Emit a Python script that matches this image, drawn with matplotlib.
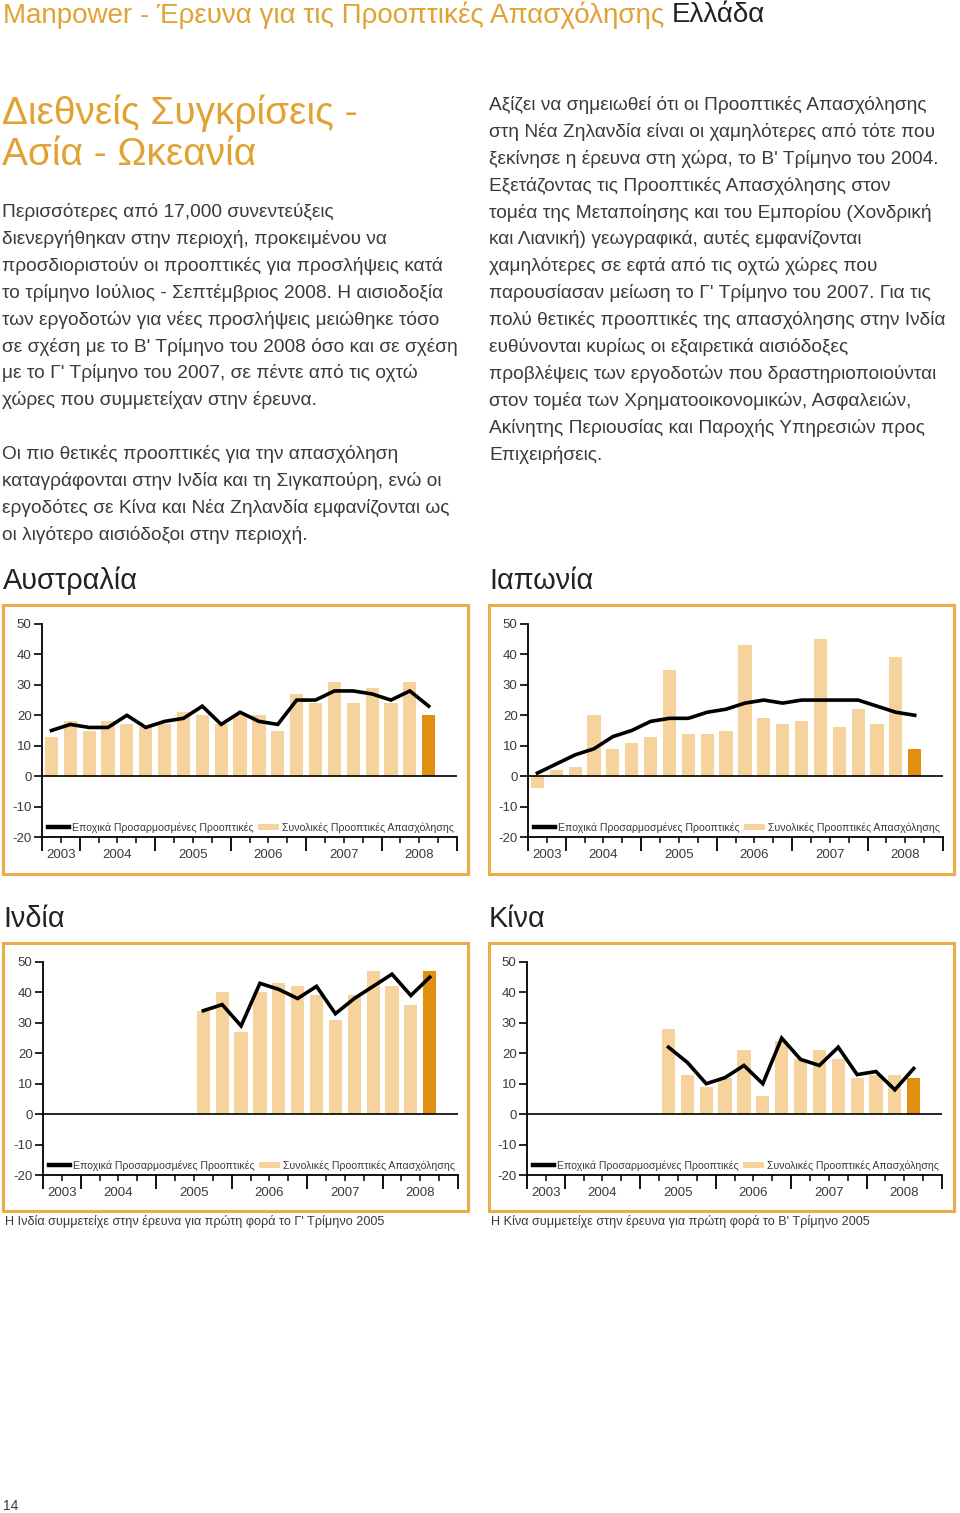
import numpy as np
import matplotlib
matplotlib.use("Agg")
import matplotlib.pyplot as plt
from matplotlib.patches import Rectangle, Patch
from matplotlib.lines import Line2D

plt.rcParams['font.family'] = ['Liberation Sans', 'DejaVu Sans']
plt.rcParams['axes.unicode_minus'] = False

# quarter index: 2003 Q1 = 0
years = ['2003', '2004', '2005', '2006', '2007', '2008']

aus_start = 2   # 2003 Q3
aus_total = [13, 18, 15, 18, 17, 16, 17, 21, 20, 17, 20, 20, 15, 27, 24, 31, 24, 29, 24, 31, 20]
aus_sa = [15, 17, 16, 16, 20, 16, 18, 19, 23, 17, 21, 18, 17, 25, 25, 28, 28, 27, 25, 28, 23]

jap_start = 2   # 2003 Q3
jap_total = [-4, 2, 3, 20, 9, 11, 13, 35, 14, 14, 15, 43, 19, 17, 18, 45, 16, 22, 17, 39, 9]
jap_sa = [1, 4, 7, 9, 13, 15, 18, 19, 19, 21, 22, 24, 25, 24, 25, 25, 25, 25, 23, 21, 20]

ind_start = 10  # 2005 Q3
ind_total = [34, 40, 27, 40, 43, 42, 39, 31, 39, 47, 42, 36, 47]
ind_sa = [34, 36, 29, 43, 41, 38, 42, 33, 38, 42, 46, 39, 45]

chn_start = 9   # 2005 Q2
chn_total = [28, 13, 9, 12, 21, 6, 24, 18, 21, 18, 12, 13, 13, 12]
chn_sa = [22, 17, 10, 12, 16, 10, 25, 18, 16, 22, 13, 14, 8, 15]

leg_sa = 'Εποχικά Προσαρμοσμένες Προοπτικές'
leg_total = 'Συνολικές Προοπτικές Απασχόλησης'

ORANGE = '#E2A233'
BORDER = '#E9AE48'
LIGHT = '#F6D29C'
DARK = '#E08F10'
TXT = '#3a3a3a'

W, H = 960, 1513
fig = plt.figure(figsize=(W / 100, H / 100), dpi=100)


def fx(px):
    return px / W


def fy(py):
    return 1 - py / H


# header
t1 = fig.text(fx(3), fy(15), 'Manpower - Έρευνα για τις Προοπτικές Απασχόλησης ',
              color=ORANGE, fontsize=20, va='center', ha='left')
rend = fig.canvas.get_renderer()
bb = t1.get_window_extent(renderer=rend)
fig.text(bb.x1 / W, fy(15), 'Ελλάδα', color='#222222', fontsize=20, va='center', ha='left')

fig.text(fx(2), fy(113), 'Διεθνείς Συγκρίσεις -', color=ORANGE, fontsize=28, va='center')
fig.text(fx(2), fy(155), 'Ασία - Ωκεανία', color=ORANGE, fontsize=28, va='center')

para1 = ['Περισσότερες από 17,000 συνεντεύξεις',
         'διενεργήθηκαν στην περιοχή, προκειμένου να',
         'προσδιοριστούν οι προοπτικές για προσλήψεις κατά',
         'το τρίμηνο Ιούλιος - Σεπτέμβριος 2008. Η αισιοδοξία',
         'των εργοδοτών για νέες προσλήψεις μειώθηκε τόσο',
         'σε σχέση με το Β\' Τρίμηνο του 2008 όσο και σε σχέση',
         'με το Γ\' Τρίμηνο του 2007, σε πέντε από τις οχτώ',
         'χώρες που συμμετείχαν στην έρευνα.']
para2 = ['Οι πιο θετικές προοπτικές για την απασχόληση',
         'καταγράφονται στην Ινδία και τη Σιγκαπούρη, ενώ οι',
         'εργοδότες σε Κίνα και Νέα Ζηλανδία εμφανίζονται ως',
         'οι λιγότερο αισιόδοξοι στην περιοχή.']
para3 = ['Αξίζει να σημειωθεί ότι οι Προοπτικές Απασχόλησης',
         'στη Νέα Ζηλανδία είναι οι χαμηλότερες από τότε που',
         'ξεκίνησε η έρευνα στη χώρα, το Β\' Τρίμηνο του 2004.',
         'Εξετάζοντας τις Προοπτικές Απασχόλησης στον',
         'τομέα της Μεταποίησης και του Εμπορίου (Χονδρική',
         'και Λιανική) γεωγραφικά, αυτές εμφανίζονται',
         'χαμηλότερες σε εφτά από τις οχτώ χώρες που',
         'παρουσίασαν μείωση το Γ\' Τρίμηνο του 2007. Για τις',
         'πολύ θετικές προοπτικές της απασχόλησης στην Ινδία',
         'ευθύνονται κυρίως οι εξαιρετικά αισιόδοξες',
         'προβλέψεις των εργοδοτών που δραστηριοποιούνται',
         'στον τομέα των Χρηματοοικονομικών, Ασφαλειών,',
         'Ακίνητης Περιουσίας και Παροχής Υπηρεσιών προς',
         'Επιχειρήσεις.']


def paragraph(lines, x, y0, step=26.9):
    for i, line in enumerate(lines):
        fig.text(fx(x), fy(y0 + i * step), line, color=TXT, fontsize=13.8, va='center')


paragraph(para1, 2, 212)
paragraph(para2, 2, 454)
paragraph(para3, 489, 105)

fig.text(fx(3), fy(1506), '14', color=TXT, fontsize=10, va='center')


def chart(box, ax_px, title, start, total, sa, note=None):
    bx0, by0, bx1, by1 = box
    fig.patches.append(Rectangle((fx(bx0), fy(by1)), fx(bx1) - fx(bx0), fy(by0) - fy(by1),
                                 transform=fig.transFigure, fill=False,
                                 edgecolor=BORDER, lw=2.2))
    fig.text(fx(bx0), fy(by0 - 24), title, color='#222222', fontsize=20.8, va='center')
    if note:
        fig.text(fx(bx0 + 2), fy(by1 + 10), note, color=TXT, fontsize=9.1, va='center')

    l, t, r, b = ax_px
    ax = fig.add_axes([fx(l), fy(b), fx(r) - fx(l), fy(t) - fy(b)])
    ax.set_facecolor('none')
    x = np.arange(start, start + len(total))
    colors = [LIGHT] * (len(total) - 1) + [DARK]
    ax.bar(x, total, width=0.7, color=colors, zorder=1)
    ax.plot(x, sa, color='black', lw=2.6, zorder=3, solid_joinstyle='miter')
    ax.axhline(0, color='black', lw=1.2, zorder=2)

    ax.set_xlim(1.5, 23.5)
    ax.set_ylim(-20, 50)
    for s in ['top', 'right']:
        ax.spines[s].set_visible(False)
    ax.spines['left'].set_linewidth(1.3)
    ax.spines['bottom'].set_linewidth(1.3)

    ax.set_yticks(np.arange(-20, 51, 10))
    ax.tick_params(axis='y', length=6, width=1.2, pad=1.5, labelsize=9.5, labelcolor=TXT)
    major = [1.5, 3.5, 7.5, 11.5, 15.5, 19.5, 23.5]
    minor = [q + 0.5 for q in range(2, 23) if q + 0.5 not in major]
    ax.set_xticks(major)
    ax.set_xticklabels([])
    ax.set_xticks(minor, minor=True)
    ax.tick_params(axis='x', which='major', length=10, width=1.3, direction='out')
    ax.tick_params(axis='x', which='minor', length=4.5, width=1.1, direction='out')

    centers = [2.5, 5.5, 9.5, 13.5, 17.5, 21.5]
    for c, yr in zip(centers, years):
        ax.annotate(yr, (c, -20), xytext=(0, -13), textcoords='offset points',
                    ha='center', va='center', fontsize=9.5, color=TXT)

    handles = [Line2D([], [], color='black', lw=3.2),
               Patch(facecolor=LIGHT, edgecolor='none')]
    ax.legend(handles, [leg_sa, leg_total], ncol=2, loc='center left',
              bbox_to_anchor=(0.015, 0.045), frameon=False, fontsize=7.55,
              handlelength=2.0, handleheight=0.6, handletextpad=0.3,
              columnspacing=0.4, borderpad=0, borderaxespad=0,
              labelcolor=TXT)
    return ax


chart((3, 605, 468, 874), (42, 624, 457, 837), 'Αυστραλία', aus_start, aus_total, aus_sa)
chart((489, 605, 954, 874), (528, 624, 943, 837), 'Ιαπωνία', jap_start, jap_total, jap_sa)
chart((3, 943, 468, 1211), (43, 962, 458, 1175), 'Ινδία', ind_start, ind_total, ind_sa,
      note='Η Ινδία συμμετείχε στην έρευνα για πρώτη φορά το Γ\' Τρίμηνο 2005')
chart((489, 943, 954, 1211), (527, 962, 942, 1175), 'Κίνα', chn_start, chn_total, chn_sa,
      note='Η Κίνα συμμετείχε στην έρευνα για πρώτη φορά το Β\' Τρίμηνο 2005')

fig.savefig('out.png', dpi=100)
